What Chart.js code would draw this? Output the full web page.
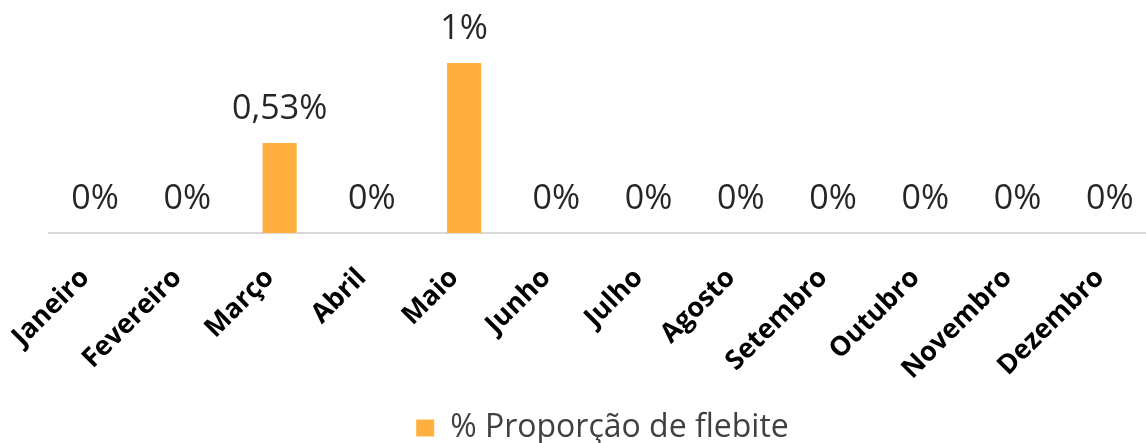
<!DOCTYPE html>
<html>
<head>
    <meta charset="UTF-8">
    <title>% Proporção de flebite</title>
    <script src="https://cdn.jsdelivr.net/npm/chart.js"></script>
    <style>
        html, body {
            margin: 0;
            padding: 0;
            background: #ffffff;
            overflow: hidden;
        }
        .chart-container {
            position: relative;
            width: 1156px;
            height: 443px;
        }
    </style>
</head>
<body>
    <div class="chart-container">
        <canvas id="flebiteChart"></canvas>
    </div>

    <script>
        // Months (x axis)
        var months = ['Janeiro', 'Fevereiro', 'Março', 'Abril', 'Maio', 'Junho',
            'Julho', 'Agosto', 'Setembro', 'Outubro', 'Novembro', 'Dezembro'];
        // Percent values per month
        var flebiteValues = [0, 0, 0.53, 0, 1, 0, 0, 0, 0, 0, 0, 0];
        // Labels shown above each bar
        var valueLabels = ['0%', '0%', '0,53%', '0%', '1%', '0%', '0%', '0%', '0%', '0%', '0%', '0%'];
        var seriesName = '% Proporção de flebite';

        // Draws the value label above every bar
        var valueLabelPlugin = {
            id: 'valueLabels',
            afterDatasetsDraw: function (chart) {
                var ctx = chart.ctx;
                var meta = chart.getDatasetMeta(0);
                ctx.save();
                ctx.font = '400 34px "Open Sans"';
                ctx.fillStyle = '#262626';
                ctx.textAlign = 'center';
                ctx.textBaseline = 'alphabetic';
                meta.data.forEach(function (bar, i) {
                    ctx.fillText(valueLabels[i], bar.x, bar.y - 24);
                });
                ctx.restore();
            }
        };

        var ctx = document.getElementById('flebiteChart').getContext('2d');
        var flebiteChart = new Chart(ctx, {
            type: 'bar',
            data: {
                labels: months,
                datasets: [{
                    label: seriesName,
                    data: flebiteValues,
                    backgroundColor: '#FFB03F',
                    borderWidth: 0,
                    categoryPercentage: 1,
                    barPercentage: 0.37
                }]
            },
            plugins: [valueLabelPlugin],
            options: {
                responsive: true,
                maintainAspectRatio: false,
                animation: false,
                layout: {
                    padding: { top: 12, left: 49, right: 0, bottom: -11 }
                },
                scales: {
                    x: {
                        grid: { display: false, drawTicks: false },
                        border: { display: true, color: '#D9D9D9', width: 2 },
                        ticks: {
                            color: '#000000',
                            font: { family: '"Open Sans"', size: 27, weight: 'bold' },
                            minRotation: 45,
                            maxRotation: 45,
                            autoSkip: false,
                            padding: 29,
                            labelOffset: -10
                        },
                        afterFit: function (scale) {
                            scale.height = 175;
                            scale.paddingLeft = 0;
                            scale.paddingRight = 0;
                        }
                    },
                    y: {
                        display: false,
                        min: 0,
                        max: 1.3
                    }
                },
                plugins: {
                    legend: {
                        position: 'bottom',
                        labels: {
                            color: '#404040',
                            font: { family: '"Open Sans"', size: 32 },
                            boxWidth: 18,
                            boxHeight: 17,
                            padding: 4
                        }
                    },
                    tooltip: { enabled: false }
                }
            }
        });
    </script>
</body>
</html>
